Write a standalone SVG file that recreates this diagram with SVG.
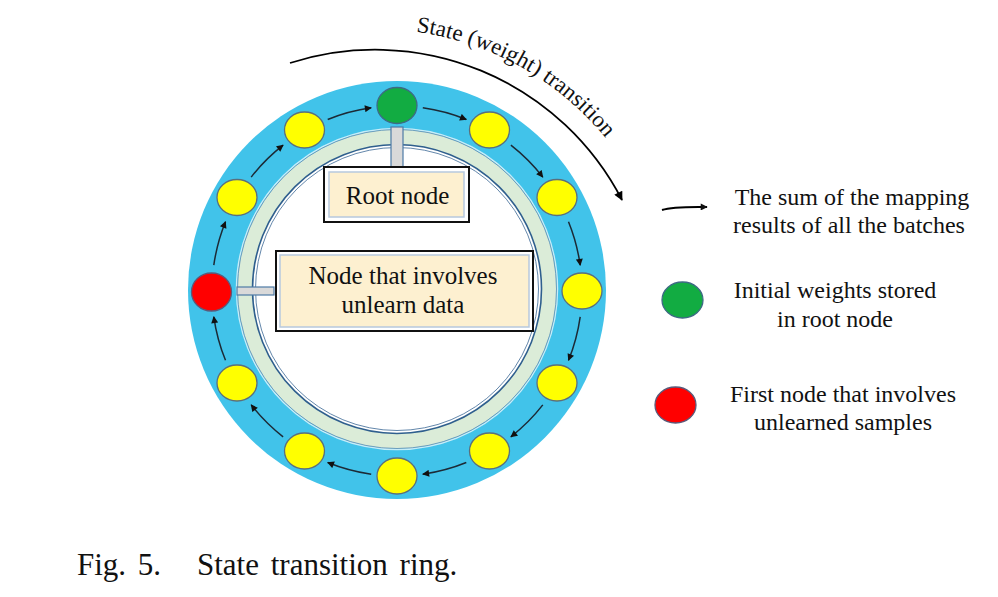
<svg xmlns="http://www.w3.org/2000/svg" width="998" height="597" viewBox="0 0 998 597">
<style>
  text { font-family: "Liberation Serif", "Times New Roman", serif; fill: #111; }
  .lbl { font-size: 25px; text-anchor: middle; }
  .leg { font-size: 24px; text-anchor: middle; }
  .cap { font-size: 31px; word-spacing: 4px; }
  .yel { fill: #ffff00; stroke: #5a6f7c; stroke-width: 1.3; }
  .grn { fill: #12ac42; stroke: #3d6a84; stroke-width: 1.3; }
  .red { fill: #ff0000; stroke: #5a5a7a; stroke-width: 1.3; }
  .flow { fill: none; stroke: #1c2a36; stroke-width: 1.5; marker-end: url(#ah); }
  .bar { fill: #d9d9d9; stroke: #4e7ba6; stroke-width: 1.2; }
  .boxo { fill: #ffffff; stroke: #111; stroke-width: 2; }
  .boxi { fill: #fdf0d0; stroke: #b7c9de; stroke-width: 1.5; }
</style>
<defs>
  <marker id="ah" viewBox="0 0 10 10" refX="9" refY="5" markerUnits="userSpaceOnUse" markerWidth="9" markerHeight="7" orient="auto">
    <path d="M0,0 L10,5 L0,10 z" fill="#111"/>
  </marker>
  <marker id="ahbig" viewBox="0 0 10 10" refX="9" refY="5" markerUnits="userSpaceOnUse" markerWidth="11" markerHeight="9" orient="auto">
    <path d="M0,0 L10,5 L0,10 z" fill="#000"/>
  </marker>
  <path id="tpath" d="M 323.3 33.5 A 298 298 0 0 1 664.8 257"/>
</defs>

<!-- ring background -->
<g id="ring">
  <circle cx="397" cy="290" r="209" fill="#41c3ea"/>
  <circle cx="397" cy="289" r="160.5" fill="none" stroke="#ffffff" stroke-width="1.5" opacity="0.7"/>
  <circle cx="397" cy="289" r="159.5" fill="#dbecd8" stroke="#5f8db3" stroke-width="0.8"/>
  <circle cx="397" cy="289" r="144.5" fill="#ffffff" stroke="#2f5f8e" stroke-width="1.6"/>
  <circle cx="397" cy="289" r="141.5" fill="none" stroke="#3a6794" stroke-width="0.8"/>
</g>

<!-- state transition arrow with curved label -->
<g id="transition">
  <path d="M 290 63 A 278 278 0 0 1 622 200" fill="none" stroke="#000" stroke-width="1.8" marker-end="url(#ahbig)"/>
  <text style="font-size:23px"><textPath href="#tpath" startOffset="93">State (weight) transition</textPath></text>
</g>

<!-- connectors between ring nodes -->
<g id="connectors">
  <path class="flow" d="M 422.8 107.8 A 185 185 0 0 1 466.3 119.5"/>
  <path class="flow" d="M 510.9 145.2 A 185 185 0 0 1 542.8 177.1"/>
  <path class="flow" d="M 568.5 221.7 A 185 185 0 0 1 580.2 265.2"/>
  <path class="flow" d="M 580.2 316.8 A 185 185 0 0 1 568.5 360.3"/>
  <path class="flow" d="M 542.8 404.9 A 185 185 0 0 1 510.9 436.8"/>
  <path class="flow" d="M 466.3 462.5 A 185 185 0 0 1 422.8 474.2"/>
  <path class="flow" d="M 371.2 474.2 A 185 185 0 0 1 327.7 462.5"/>
  <path class="flow" d="M 283.1 436.8 A 185 185 0 0 1 251.2 404.9"/>
  <path class="flow" d="M 225.5 360.3 A 185 185 0 0 1 213.8 316.8"/>
  <path class="flow" d="M 213.8 265.2 A 185 185 0 0 1 225.5 221.7"/>
  <path class="flow" d="M 251.2 177.1 A 185 185 0 0 1 283.1 145.2"/>
  <path class="flow" d="M 327.7 119.5 A 185 185 0 0 1 371.2 107.8"/>
  <rect class="bar" x="391" y="127" width="12" height="40"/>
  <rect class="bar" x="237" y="287" width="37" height="8"/>
</g>

<!-- ring nodes -->
<g id="n0"><ellipse class="grn" cx="397" cy="105.5" rx="20" ry="18"/></g>
<g id="n1"><ellipse class="yel" cx="489.5" cy="130" rx="20" ry="18"/></g>
<g id="n2"><ellipse class="yel" cx="557" cy="197.5" rx="20" ry="18"/></g>
<g id="n3"><ellipse class="yel" cx="582" cy="291" rx="20" ry="18"/></g>
<g id="n4"><ellipse class="yel" cx="557" cy="383" rx="20" ry="18"/></g>
<g id="n5"><ellipse class="yel" cx="489.5" cy="451" rx="20" ry="18"/></g>
<g id="n6"><ellipse class="yel" cx="397" cy="476" rx="20" ry="18"/></g>
<g id="n7"><ellipse class="yel" cx="304.5" cy="451" rx="20" ry="18"/></g>
<g id="n8"><ellipse class="yel" cx="237" cy="383" rx="20" ry="18"/></g>
<g id="n9"><ellipse class="red" cx="211.5" cy="292" rx="20" ry="19"/></g>
<g id="n10"><ellipse class="yel" cx="237" cy="197.5" rx="20" ry="18"/></g>
<g id="n11"><ellipse class="yel" cx="304.5" cy="130" rx="20" ry="18"/></g>

<!-- label boxes -->
<g id="rootbox">
  <rect class="boxo" x="324" y="167" width="145" height="55"/>
  <rect class="boxi" x="329" y="172" width="135" height="45"/>
  <text class="lbl" x="397.5" y="204">Root node</text>
</g>
<g id="unlearnbox">
  <rect class="boxo" x="276" y="251" width="257" height="80"/>
  <rect class="boxi" x="280" y="255" width="249" height="72"/>
  <text class="lbl" x="403" y="284">Node that involves</text>
  <text class="lbl" x="403" y="313">unlearn data</text>
</g>

<!-- legend -->
<g id="legend-arrow">
  <path d="M 662 210 Q 672 206.5 707 207" fill="none" stroke="#000" stroke-width="2" marker-end="url(#ah)"/>
  <text class="leg" x="852" y="205">The sum of the mapping</text>
  <text class="leg" x="849" y="233">results of all the batches</text>
</g>
<g id="legend-green">
  <ellipse class="grn" cx="682.5" cy="300" rx="20.5" ry="18"/>
  <text class="leg" x="835" y="298">Initial weights stored</text>
  <text class="leg" x="835" y="327">in root node</text>
</g>
<g id="legend-red">
  <ellipse class="red" cx="675.5" cy="405" rx="20.5" ry="18"/>
  <text class="leg" x="843" y="402">First node that involves</text>
  <text class="leg" x="843" y="430">unlearned samples</text>
</g>

<!-- caption -->
<g id="caption">
  <text class="cap" x="77" y="575">Fig. 5.</text>
  <text class="cap" x="197" y="575">State transition ring.</text>
</g>
</svg>
